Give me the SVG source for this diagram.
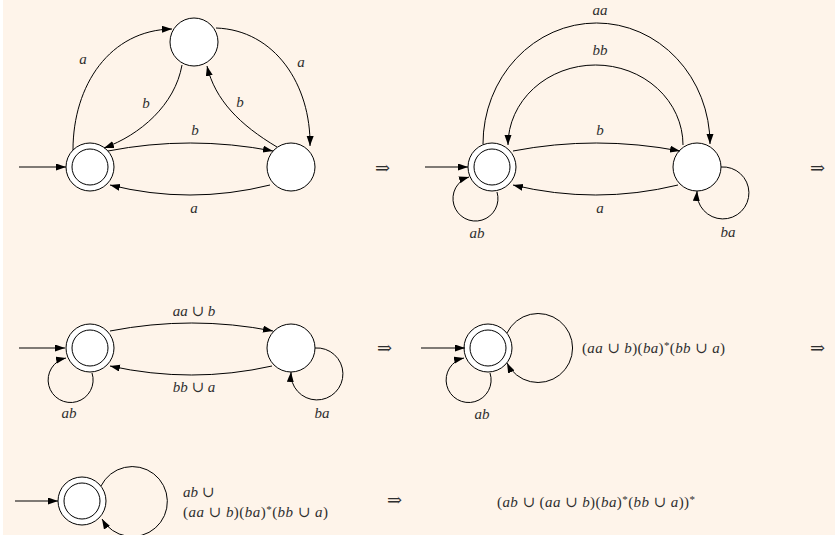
<svg xmlns="http://www.w3.org/2000/svg" width="835" height="535" viewBox="0 0 835 535">
<style>
.bg{fill:#fef4ea}
.n{fill:#fff;stroke:#000;stroke-width:1}
.e{fill:none;stroke:#000;stroke-width:1;marker-end:url(#ah)}
text{font-family:"Liberation Serif","DejaVu Serif",serif;font-size:15px;fill:#2e2e2e}
.i{font-style:italic}
.c{text-anchor:middle}
.s{font-size:11px}
.ar{font-family:"DejaVu Serif",serif;font-size:18px}
</style>
<defs>
<marker id="ah" markerUnits="userSpaceOnUse" markerWidth="11" markerHeight="8" refX="10" refY="3.5" orient="auto">
<path d="M0,0 L10,3.5 L0,7 z" fill="#000"/>
</marker>
</defs>
<rect x="0" y="0" width="835" height="535" fill="#fff"/>
<rect class="bg" x="3" y="0" width="832" height="535"/>

<!-- Diagram 1 -->
<g id="d1-L"><circle class="n" cx="90" cy="167" r="24"/><circle class="n" cx="90" cy="167" r="18"/></g>
<g id="d1-T"><circle class="n" cx="194" cy="42" r="24"/></g>
<g id="d1-R"><circle class="n" cx="291" cy="167" r="24"/></g>
<!-- Diagram 2 -->
<g id="d2-L"><circle class="n" cx="492" cy="167" r="24"/><circle class="n" cx="492" cy="167" r="18"/></g>
<g id="d2-R"><circle class="n" cx="697" cy="167" r="24"/></g>
<!-- Diagram 3 -->
<g id="d3-L"><circle class="n" cx="90" cy="348" r="24"/><circle class="n" cx="90" cy="348" r="18"/></g>
<g id="d3-R"><circle class="n" cx="291" cy="348" r="24"/></g>
<!-- Diagram 4 -->
<g id="d4-N"><circle class="n" cx="488" cy="348" r="24"/><circle class="n" cx="488" cy="348" r="18"/></g>
<!-- Diagram 5 -->
<g id="d5-N"><circle class="n" cx="82" cy="501" r="24"/><circle class="n" cx="82" cy="501" r="18"/></g>

<g id="connectors">
<!-- d1 -->
<path class="e" d="M19,167 L66,167"/>
<path class="e" d="M73,150 C73,85 110,30 172,29"/>
<path class="e" d="M216,28 C275,30 311,85 310,146"/>
<path class="e" d="M182,65 C175,105 140,135 104,148"/>
<path class="e" d="M277,147 C240,125 215,100 207,66"/>
<path class="e" d="M108,151 Q190,135 273,151"/>
<path class="e" d="M270,185 Q190,205 110,185"/>
<!-- d2 -->
<path class="e" d="M425,167 L468,167"/>
<path class="e" d="M483,144 A113.5 121 0 0 1 710,144"/>
<path class="e" d="M683,145 A87.5 80 0 0 0 508,145"/>
<path class="e" d="M513,151 Q596,135 680,151"/>
<path class="e" d="M678,185 Q596,205 513,185"/>
<path class="e" d="M497,192 A22.5 22.5 0 1 1 469,177"/>
<path class="e" d="M721,167 A26 26 0 1 1 697,191"/>
<!-- d3 -->
<path class="e" d="M19,348 L65,348"/>
<path class="e" d="M110,331 Q192,315 273,331"/>
<path class="e" d="M272,366 Q192,384 110,366"/>
<path class="e" d="M92,373 A22.5 22.5 0 1 1 66,358"/>
<path class="e" d="M315,348 A26 26 0 1 1 291,372"/>
<!-- d4 -->
<path class="e" d="M421,348 L465,348"/>
<path class="e" d="M490,373 A22.5 22.5 0 1 1 464,358"/>
<path class="e" d="M507,333 A34.5 34.5 0 1 1 507,363"/>
<!-- d5 -->
<path class="e" d="M15,501 L58,501"/>
<path class="e" d="M101,486 A35 35 0 1 1 102,519"/>
</g>

<g id="labels">
<text class="i c" x="83" y="64">a</text>
<text class="i c" x="301" y="67">a</text>
<text class="i c" x="146" y="108">b</text>
<text class="i c" x="240" y="107">b</text>
<text class="i c" x="195" y="135">b</text>
<text class="i c" x="194" y="213">a</text>

<text class="i c" x="600" y="15">aa</text>
<text class="i c" x="600" y="55">bb</text>
<text class="i c" x="600" y="135">b</text>
<text class="i c" x="600" y="213">a</text>
<text class="i c" x="477" y="238">ab</text>
<text class="i c" x="728" y="237">ba</text>

<text class="c" x="194" y="316"><tspan class="i">aa</tspan> ∪ <tspan class="i">b</tspan></text>
<text class="c" x="194" y="392"><tspan class="i">bb</tspan> ∪ <tspan class="i">a</tspan></text>
<text class="i c" x="69" y="418">ab</text>
<text class="i c" x="322" y="418">ba</text>

<text class="i c" x="482" y="419">ab</text>
<text x="582" y="353" textLength="143" lengthAdjust="spacing">(<tspan class="i">aa</tspan> ∪ <tspan class="i">b</tspan>)(<tspan class="i">ba</tspan>)<tspan class="s" dy="-4">*</tspan><tspan dy="4">(</tspan><tspan class="i">bb</tspan> ∪ <tspan class="i">a</tspan>)</text>

<text x="183" y="497"><tspan class="i">ab</tspan> ∪</text>
<text x="183" y="517" textLength="145" lengthAdjust="spacing">(<tspan class="i">aa</tspan> ∪ <tspan class="i">b</tspan>)(<tspan class="i">ba</tspan>)<tspan class="s" dy="-4">*</tspan><tspan dy="4">(</tspan><tspan class="i">bb</tspan> ∪ <tspan class="i">a</tspan>)</text>

<text x="497" y="507" textLength="198" lengthAdjust="spacing">(<tspan class="i">ab</tspan> ∪ (<tspan class="i">aa</tspan> ∪ <tspan class="i">b</tspan>)(<tspan class="i">ba</tspan>)<tspan class="s" dy="-4">*</tspan><tspan dy="4">(</tspan><tspan class="i">bb</tspan> ∪ <tspan class="i">a</tspan>))<tspan class="s" dy="-4">*</tspan></text>

<text class="ar" x="375" y="174">⇒</text>
<text class="ar" x="810" y="174">⇒</text>
<text class="ar" x="377" y="354">⇒</text>
<text class="ar" x="810" y="354">⇒</text>
<text class="ar" x="387" y="506">⇒</text>
</g>
</svg>
